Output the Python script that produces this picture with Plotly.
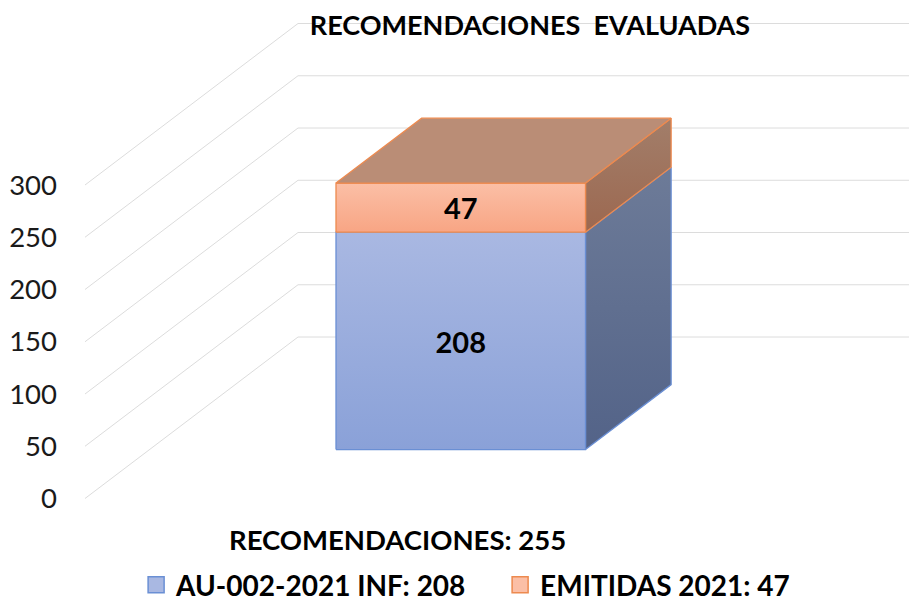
import plotly.graph_objects as go

title_text = "RECOMENDACIONES \u00a0EVALUADAS"
category_label = "RECOMENDACIONES: 255"
series_names = ["AU-002-2021 INF: 208", "EMITIDAS 2021: 47"]
series_values = [208, 47]
y_ticks = [0, 50, 100, 150, 200, 250, 300]

FONT = "Lato"
W, H = 909, 603
# oblique projection of the pseudo-3D chart box
PX_PER_UNIT = 1.045
ZERO_PX = 498.5
WALL_LEFT, WALL_DX, WALL_DY, WALL_RIGHT = 85, 213, 161.5, 909
BAR_D0, BAR_D1 = 0.303, 0.705
BAR_LEFT, BAR_RIGHT = 336 - BAR_D0 * WALL_DX, 585.5 - BAR_D0 * WALL_DX
PLOT_LEFT = 62
DEPTH_V = WALL_DY / PX_PER_UNIT
LABEL_DROP_PX = 4.5


def pt(x_front, v, d):
    """Front-plane position x_front, value v, depth d (0 front .. 1 back)."""
    return x_front + d * WALL_DX, v + d * DEPTH_V


def poly(points):
    xs = [p[0] for p in points] + [points[0][0]]
    ys = [p[1] for p in points] + [points[0][1]]
    return xs, ys


fig = go.Figure()

# gridlines: front edge to back wall, then across the wall
gx, gy = [], []
for t in y_ticks:
    a, b = pt(WALL_LEFT, t, 0), pt(WALL_LEFT, t, 1)
    gx += [a[0], b[0], WALL_RIGHT, None]
    gy += [a[1], b[1], b[1], None]
fig.add_trace(go.Scatter(x=gx, y=gy, mode="lines", line=dict(color="#dcdcdc", width=1),
                         showlegend=False, hoverinfo="skip"))

styles = [
    dict(edge="#6a8fd4", front=("#a9b8e2", "#8aa1d8"), side=("#6d7b98", "#536388")),
    dict(edge="#ed8a4f", front=("#fbbfa6", "#f8a584"), side=("#a27e6a", "#9c6850"),
         top="#ba8d76"),
]


def face(points, c_top, c_bottom, edge):
    xs, ys = poly(points)
    fig.add_trace(go.Scatter(
        x=xs, y=ys, mode="lines", fill="toself", line=dict(color=edge, width=1.3),
        fillgradient=dict(type="vertical", colorscale=[[0, c_bottom], [1, c_top]]),
        showlegend=False, hoverinfo="skip"))


base = 0
centers = []
for val, st in zip(series_values, styles):
    top = base + val
    face([pt(BAR_RIGHT, base, BAR_D0), pt(BAR_RIGHT, top, BAR_D0),
          pt(BAR_RIGHT, top, BAR_D1), pt(BAR_RIGHT, base, BAR_D1)], *st["side"], st["edge"])
    face([pt(BAR_LEFT, base, BAR_D0), pt(BAR_LEFT, top, BAR_D0),
          pt(BAR_RIGHT, top, BAR_D0), pt(BAR_RIGHT, base, BAR_D0)], *st["front"], st["edge"])
    centers.append(pt((BAR_LEFT + BAR_RIGHT) / 2, base + val / 2, BAR_D0))
    base = top

total = sum(series_values)
face([pt(BAR_LEFT, total, BAR_D0), pt(BAR_LEFT, total, BAR_D1),
      pt(BAR_RIGHT, total, BAR_D1), pt(BAR_RIGHT, total, BAR_D0)],
     styles[1]["top"], styles[1]["top"], styles[1]["edge"])

# data labels
fig.add_trace(go.Scatter(
    x=[c[0] for c in centers], y=[c[1] - LABEL_DROP_PX / PX_PER_UNIT for c in centers],
    text=[str(v) for v in series_values], mode="text",
    textposition="middle center",
    textfont=dict(family=FONT, size=29, color="#000000", weight="bold"),
    showlegend=False, hoverinfo="skip"))

# legend entries
for name, st in zip(series_names, styles):
    fig.add_trace(go.Scatter(
        x=[None], y=[None], mode="markers", name=name,
        marker=dict(symbol="square", size=16, color=st["front"][0],
                    line=dict(color=st["edge"], width=1.5))))

fig.update_layout(
    width=W, height=H,
    autosize=False,
    margin=dict(l=PLOT_LEFT, r=0, t=0, b=0, autoexpand=False),
    paper_bgcolor="#ffffff", plot_bgcolor="#ffffff",
    title=dict(text=title_text, x=530 / W, xanchor="center", y=1 - 26 / H, yanchor="middle",
               font=dict(family=FONT, size=27, color="#000000", weight="bold")),
    xaxis=dict(range=[PLOT_LEFT, WALL_RIGHT], visible=False, fixedrange=True),
    yaxis=dict(range=[(ZERO_PX - H) / PX_PER_UNIT, ZERO_PX / PX_PER_UNIT],
               automargin=False,
               tickmode="array", tickvals=y_ticks, ticks="", showgrid=False,
               zeroline=False, showline=False, ticklabelstandoff=4,
               tickfont=dict(family=FONT, size=27.5, color="#1a1a1a")),
    legend=dict(orientation="h", xref="paper", yref="paper", x=0.0875, xanchor="left",
                y=1 - 585 / H, yanchor="middle", bgcolor="rgba(0,0,0,0)",
                itemsizing="trace", traceorder="normal",
                entrywidth=319, entrywidthmode="pixels",
                font=dict(family=FONT, size=28, color="#000000", weight="bold")),
    annotations=[dict(text=category_label, x=(397.5 - PLOT_LEFT) / (W - PLOT_LEFT), y=1 - 539 / H,
                      xref="paper", yref="paper", xanchor="center", yanchor="middle",
                      showarrow=False,
                      font=dict(family=FONT, size=27.5, color="#000000", weight="bold"))],
)

fig.write_html("out.html", config={"displayModeBar": False},
               post_script="document.body.style.margin='0';document.documentElement.style.overflow='hidden';")
